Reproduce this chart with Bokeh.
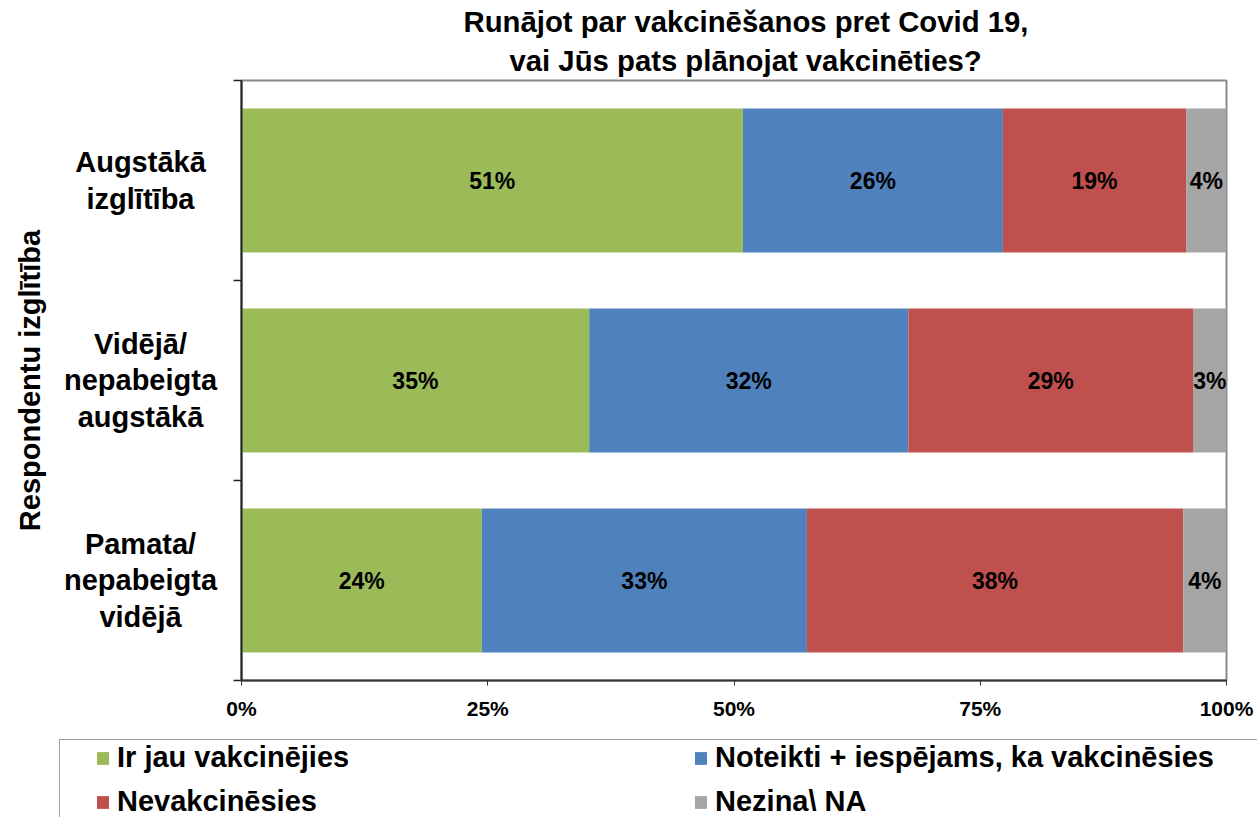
import math
from bokeh.plotting import figure
from bokeh.layouts import row
from bokeh.models import (Range1d, FixedTicker, PrintfTickFormatter, Legend, LegendItem,
                          Title, ColumnDataSource)
from bokeh.core.properties import value
from bokeh.embed import file_html
from bokeh.resources import INLINE

# ---------------- data ----------------
categories = ["Augstākā\nizglītība", "Vidējā/\nnepabeigta\naugstākā", "Pamata/\nnepabeigta\nvidējā"]
series_names = ["Ir jau vakcinējies", "Noteikti + iespējams, ka vakcinēsies", "Nevakcinēsies", "Nezina\\ NA"]
colors = ["#9BBB59", "#4F81BD", "#C0504D", "#A5A5A5"]
vaccinated = [50.9, 35.3, 24.4]
will_vaccinate = [26.4, 32.4, 33.0]
wont_vaccinate = [18.6, 28.9, 38.2]
dont_know = [4.1, 3.4, 4.4]
x_ticks = [0, 25, 50, 75, 100]
title_line1 = "Runājot par vakcinēšanos pret Covid 19,"
title_line2 = "vai Jūs pats plānojat vakcinēties?"
y_title = "Respondentu izglītība"

FONT = "Liberation Sans"
series = [vaccinated, will_vaccinate, wont_vaccinate, dont_know]
n = len(categories)
ys = [n - i - 0.5 for i in range(n)]

LABEL_W = 225          # width of the strip that holds the category names
TOP, BOTTOM = 80, 50

# ---------------- category-name strip (left) ----------------
lf = figure(width=LABEL_W, height=730, output_backend="svg", toolbar_location=None, title=None,
            x_range=Range1d(0, LABEL_W), y_range=Range1d(0, n), x_axis_type=None, y_axis_type=None,
            min_border_left=0, min_border_right=0, min_border_top=TOP, min_border_bottom=BOTTOM)
lf.outline_line_color = None
lf.xgrid.visible = False
lf.ygrid.visible = False
cat_src = ColumnDataSource(dict(x=[140] * n, y=ys, t=categories))
lf.text(x="x", y="y", text="t", source=cat_src, text_align="center", text_baseline="middle",
        text_font=value(FONT), text_font_style="bold", text_font_size="29px",
        text_line_height=1.13, text_color="black")
ttl_src = ColumnDataSource(dict(x=[29], y=[n / 2], t=[y_title]))
lf.text(x="x", y="y", text="t", source=ttl_src, angle=math.pi / 2, text_align="center",
        text_baseline="middle", text_font=value(FONT), text_font_style="bold",
        text_font_size="29px", text_color="black")

# ---------------- main chart ----------------
p = figure(width=1257 - LABEL_W, height=730, output_backend="svg", toolbar_location=None,
           title=None, x_range=Range1d(0, 100), y_range=Range1d(0, n),
           min_border_left=241 - LABEL_W, min_border_right=31, min_border_top=TOP,
           min_border_bottom=BOTTOM)
p.background_fill_color = "white"
p.border_fill_color = "white"
p.outline_line_color = "#8a8a8a"
p.outline_line_width = 2
p.xgrid.visible = False
p.ygrid.visible = False

sources = []
renderers = []
label_x, label_y, label_t = [], [], []
lefts = [0.0] * n
for vals, col in zip(series, colors):
    rights = [l + v for l, v in zip(lefts, vals)]
    src = ColumnDataSource(dict(y=ys, left=lefts, right=rights))
    sources.append(src)
    r = p.hbar(y="y", left="left", right="right", height=0.72, source=src,
               fill_color=col, line_color=None)
    renderers.append(r)
    for l, rr, yy, v in zip(lefts, rights, ys, vals):
        label_x.append((l + rr) / 2)
        label_y.append(yy)
        label_t.append(f"{round(v)}%")
    lefts = rights

lab_src = ColumnDataSource(dict(x=label_x, y=label_y, t=label_t))
p.text(x="x", y="y", text="t", source=lab_src, text_align="center", text_baseline="middle",
       text_font=value(FONT), text_font_style="bold", text_font_size="23px", text_color="black")

xa = p.xaxis[0]
xa.ticker = FixedTicker(ticks=x_ticks, minor_ticks=[])
xa.formatter = PrintfTickFormatter(format="%d%%")
xa.major_tick_in = 0
xa.major_tick_out = 5
xa.minor_tick_out = 0
xa.minor_tick_in = 0
xa.axis_line_color = "#333333"
xa.axis_line_width = 2
xa.major_tick_line_color = "#333333"
xa.major_label_text_font = FONT
xa.major_label_text_font_style = "bold"
xa.major_label_text_font_size = "21px"
xa.major_label_text_color = "black"
xa.major_label_standoff = 11

ya = p.yaxis[0]
ya.ticker = FixedTicker(ticks=[], minor_ticks=list(range(n + 1)))
ya.major_label_standoff = 0
ya.major_tick_in = 0
ya.major_tick_out = 0
ya.minor_tick_in = 0
ya.minor_tick_out = 8
ya.minor_tick_line_color = "#222222"
ya.minor_tick_line_width = 1.5
ya.axis_line_color = "#222222"
ya.axis_line_width = 2

t2 = Title(text=title_line2, align="left", offset=268, text_font=FONT, text_font_style="bold",
           text_font_size="29.3px", text_color="black", standoff=8)
p.add_layout(t2, "above")
t1 = Title(text=title_line1, align="left", offset=222, text_font=FONT, text_font_style="bold",
           text_font_size="29.3px", text_color="black", standoff=0)
p.add_layout(t1, "above")

# ---------------- legend strip (bottom); its bars lie outside its visible ranges ----------------
lg = figure(width=1257, height=87, output_backend="svg", toolbar_location=None, title=None,
            x_range=Range1d(-1100, -1000), y_range=Range1d(10, 11), x_axis_type=None, y_axis_type=None,
            min_border_left=0, min_border_right=0, min_border_top=0, min_border_bottom=0)
lg.outline_line_color = None
lg.xgrid.visible = False
lg.ygrid.visible = False
lg_renderers = [lg.hbar(y="y", left="left", right="right", height=0.72, source=s,
                        fill_color=c, line_color=None)
                for s, c in zip(sources, colors)]
legend = Legend(items=[LegendItem(label=nm, renderers=[r]) for nm, r in zip(series_names, lg_renderers)],
                location=(59, -3), orientation="horizontal", ncols=2,
                title=" ", title_location="left", title_text_font_size="14px", title_standoff=18,
                label_text_font=FONT, label_text_font_style="bold", label_text_font_size="29px",
                label_text_color="black",
                glyph_width=15, glyph_height=16, label_standoff=7, label_width=565, label_height=33,
                spacing=11, padding=1, margin=0,
                border_line_color="#404040", border_line_width=1.5, background_fill_alpha=0)
lg.add_layout(legend, "center")

top = row(lf, p, spacing=0)
open("out.html", "w").write(file_html([top, lg], INLINE))
